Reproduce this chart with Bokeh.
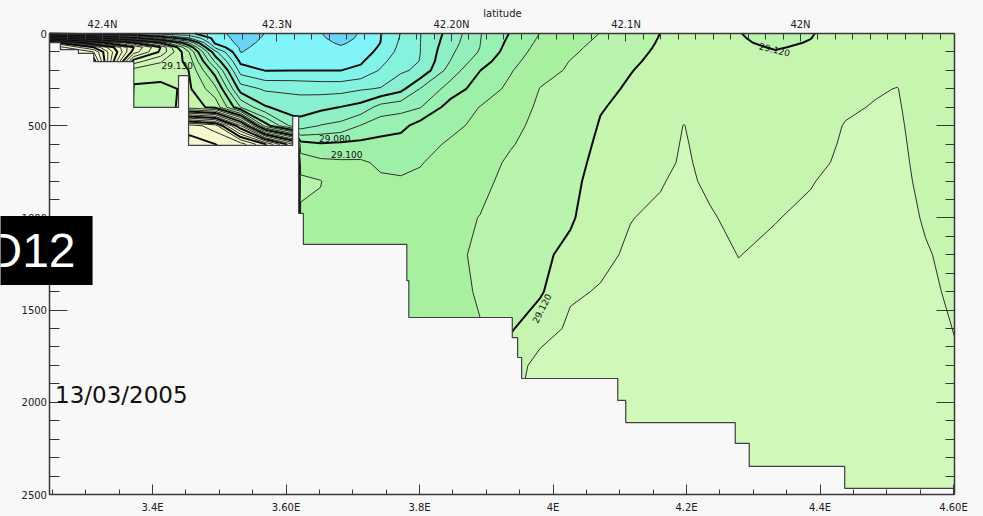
import numpy as np
from bokeh.plotting import figure
from bokeh.models import Range1d, LinearAxis, FixedTicker, CustomJSTickFormatter, Label
from bokeh.core.properties import value
from bokeh.embed import file_html
from bokeh.resources import INLINE

# ---------------- data ----------------
# station longitudes (deg E)
station_lon = [3.246, 3.312, 3.372, 3.412, 3.454, 3.494, 3.532, 3.569, 3.610, 3.622,
               3.652, 3.682, 3.712, 3.742, 3.772, 3.801, 3.846, 3.891, 3.936, 3.981,
               4.026, 4.071, 4.116, 4.161, 4.196, 4.236, 4.278, 4.333, 4.386, 4.438,
               4.483, 4.516, 4.558, 4.602]
# depth levels (m)
depth_levels = [0, 25, 50, 75, 100, 150, 200, 300, 400, 500, 600, 700, 800, 1000,
                1200, 1400, 1600, 1800, 2000, 2250, 2500]
# potential density anomaly per station: (sigma - 29.000) * 1000, one row per station
sigma_milli = [
    [60, 150, 250, 270, 280, 290, 290, 290, 290, 290, 290, 290, 290, 290, 290, 290, 290, 290, 290, 290, 290],
    [50, 120, 190, 240, 260, 275, 280, 285, 285, 285, 285, 285, 285, 285, 285, 285, 285, 285, 285, 285, 285],
    [42, 90, 150, 180, 175, 145, 126, 118, 115, 115, 115, 115, 115, 115, 115, 115, 115, 115, 115, 115, 115],
    [35, 70, 120, 150, 148, 131, 125, 117, 114, 114, 114, 114, 114, 114, 114, 114, 114, 114, 114, 114, 114],
    [32, 52, 80, 100, 111, 117, 120, 122, 125, 235, 245, 250, 250, 250, 250, 250, 250, 250, 250, 250, 250],
    [24, 26, 28, 38, 53, 68, 84, 103, 117, 225, 240, 245, 245, 245, 245, 245, 245, 245, 245, 245, 245],
    [15, 16, 17.2, 18.5, 19.7, 27.5, 35.5, 55, 80, 170, 235, 240, 240, 240, 240, 240, 240, 240, 240, 240, 240],
    [20.2, 21, 21.8, 22.6, 23.5, 26.5, 29.7, 48.5, 61, 95, 210, 220, 220, 220, 220, 220, 220, 220, 220, 220, 220],
    [22.5, 23, 23.6, 24.3, 25.2, 27.5, 29.9, 48, 55, 66, 170, 190, 190, 190, 190, 190, 190, 190, 190, 190, 190],
    [22, 22.5, 23.2, 24, 25, 27.5, 29.9, 47.5, 55, 65, 94, 106, 112, 108.5, 108, 108.2, 108.5, 109, 109.5, 109.8, 109.9],
    [20.4, 21.2, 22.2, 23.3, 24.5, 27, 29.9, 46.5, 57.5, 70.5, 91, 102.5, 110.3, 108.5, 107.5, 108, 108.5, 109, 109.5, 109.8, 109.9],
    [15, 16.8, 18.8, 20.8, 22.5, 25.5, 29.9, 46.5, 60.3, 73, 92, 101.5, 104.5, 106.5, 107.5, 108.2, 108.8, 109.2, 109.6, 109.8, 109.9],
    [21, 21.5, 22.3, 23.5, 25, 28.5, 32.5, 49, 63.5, 80.5, 92.5, 101.5, 104, 106, 107, 107.8, 108.5, 109, 109.3, 109.6, 109.8],
    [29.7, 29.9, 30.2, 31.5, 33, 37.5, 41, 50.7, 74, 86, 92.8, 98.2, 101.5, 104, 105.5, 106.5, 107.5, 108.5, 109, 109.5, 109.8],
    [40.2, 41, 41.8, 42.6, 43.5, 45.5, 48.5, 57, 76.5, 87, 94.5, 98, 100.8, 103, 104.5, 105.5, 106.5, 107.5, 108.5, 109.2, 109.6],
    [49.7, 49.75, 49.8, 49.85, 49.9, 50.3, 52, 70.4, 79.5, 94, 96, 99.5, 101.5, 103.5, 105.5, 107, 108, 109, 109.5, 109.8, 109.9],
    [63.5, 64.5, 65.5, 66.8, 68, 70.1, 74.5, 84.2, 94.5, 97.2, 101.5, 103.5, 105, 107, 108, 108.5, 108.8, 109.2, 109.5, 109.7, 109.9],
    [79.5, 79.7, 79.9, 80.2, 81, 85.5, 89.9, 95, 100.3, 102.8, 104.5, 106, 107.3, 110.3, 111.5, 110.5, 109.8, 109.8, 109.9, 109.9, 109.9],
    [90.5, 91.5, 92.6, 93.7, 94.8, 97, 99.2, 102, 104.5, 107, 109.2, 111.5, 113, 115, 116.5, 117.8, 119, 125, 128, 129.5, 129.8],
    [100.3, 101.2, 102.1, 103, 103.8, 105.5, 107, 110.3, 111.8, 113, 114, 114.8, 115.5, 116.8, 118, 118.8, 126, 133.5, 134, 134.5, 135],
    [105.5, 106.3, 107.1, 107.9, 108.6, 110.2, 111, 112.5, 113.6, 114.6, 115.5, 116.5, 117.5, 118.8, 122.5, 129, 131.5, 132.5, 133, 133.5, 134],
    [110.2, 111, 111.8, 112.6, 113.4, 114.8, 116, 118, 119.5, 120.6, 121.7, 122.8, 123.9, 126, 128.4, 130.5, 131.5, 132.2, 132.8, 133.5, 134],
    [115.5, 116, 116.6, 117.2, 117.8, 118.8, 119.7, 121, 122, 123, 124, 125, 126.3, 129.8, 131, 131.8, 132.5, 133, 133.5, 134, 134.5],
    [120.1, 120.4, 120.7, 121, 121.3, 121.9, 122.5, 123.6, 124.6, 125.5, 126.5, 127.6, 129.5, 131.2, 131.9, 132.5, 133, 133.5, 133.9, 134.4, 134.8],
    [121, 121.4, 121.8, 122.2, 122.6, 123.4, 124.2, 125.9, 127.6, 130.2, 130.8, 131.2, 131.6, 132.2, 132.7, 133.1, 133.5, 133.9, 134.2, 134.6, 135],
    [121.5, 121.7, 121.9, 122.1, 122.3, 122.8, 123.3, 124.2, 125, 125.8, 126.7, 127.6, 128.5, 130.7, 131.6, 132.2, 132.8, 133.3, 133.8, 134.3, 134.8],
    [120.3, 120.6, 120.9, 121.2, 121.5, 122, 122.5, 123.3, 124, 124.6, 125.2, 125.8, 126.4, 128, 129.9, 131, 131.8, 132.5, 133.1, 133.8, 134.5],
    [117, 117.8, 118.6, 119.6, 120.3, 121.5, 122.3, 123.5, 124.3, 125, 125.8, 126.6, 127.4, 129.8, 131, 131.8, 132.5, 133, 133.5, 134.1, 134.6],
    [119.6, 119.9, 120.4, 120.8, 121.2, 122, 122.6, 123.8, 125, 126.1, 127.2, 128.3, 129.7, 131, 131.8, 132.4, 133, 133.5, 134, 134.5, 135],
    [123, 123.4, 123.7, 124.1, 124.5, 125.2, 126, 127.5, 128.9, 130.4, 130.9, 131.3, 131.7, 132.3, 132.8, 133.2, 133.6, 134, 134.3, 134.7, 135.1],
    [123, 123.5, 124, 124.5, 125, 126, 127, 129.3, 130.5, 131, 131.4, 131.8, 132.1, 132.6, 133, 133.4, 133.8, 134.1, 134.4, 134.8, 135.2],
    [123, 123.6, 124.2, 124.8, 125.4, 126.6, 127.8, 130.2, 130.8, 131.3, 131.7, 132, 132.3, 132.8, 133.2, 133.6, 134, 134.3, 134.6, 135, 135.4],
    [123, 123.2, 123.3, 123.5, 123.6, 123.9, 124.3, 124.9, 125.5, 126.2, 126.8, 127.4, 128, 129.3, 130.6, 131.3, 132, 132.6, 133.2, 134, 134.8],
    [123, 123.1, 123.2, 123.3, 123.4, 123.6, 123.8, 124.3, 124.7, 125.1, 125.5, 126, 126.4, 127.2, 128.1, 128.9, 129.8, 130.6, 131.4, 132.4, 133.4],
]
# sea-floor staircase: longitude edges and bottom depth of each interval
bottom_edges = [3.246, 3.262, 3.289, 3.312, 3.372, 3.439, 3.454, 3.610, 3.619, 3.626, 3.781,
                3.784, 3.939, 3.947, 3.953, 4.097, 4.109, 4.273, 4.294, 4.437, 4.602]
bottom_depth = [49, 87, 108, 152, 401, 228, 607, 450, 976, 1144, 1340, 1540, 1649, 1757,
                1871, 1990, 2110, 2223, 2348, 2467]
# contour labels
label_text = ["29.080", "29.100", "29.120", "29.120", "29.130"]
label_lon = [3.673, 3.691, 3.983, 4.332, 3.437]
label_depth = [569, 656, 1491, 87, 174]
label_angle_deg = [0, 0, 63, -14, 0]
# axes
lon_ticks = [3.4, 3.6, 3.8, 4.0, 4.2, 4.4, 4.6]
lon_tick_labels = ["3.4E", "3.60E", "3.8E", "4E", "4.2E", "4.4E", "4.60E"]
lat_ticks = [42.4, 42.3, 42.2, 42.1, 42.0]
lat_tick_labels = ["42.4N", "42.3N", "42.20N", "42.1N", "42N"]
depth_ticks = [0, 500, 1000, 1500, 2000, 2500]

# ---------------- layout / styling ----------------
BG = "#f8f8f8"
LON_MIN, LON_MAX = 3.2464, 4.6015      # section limits
LAT_W, LAT_E = 42.4301, 41.9115         # latitude at the same limits
DEPTH_MAX = 2500

contour_levels = list(np.round(np.linspace(29.0, 29.3, 31), 2))
band_colors = ["#5cc8f0", "#68d4f8", "#80f4f8", "#80f4e8", "#84f2dc", "#88f0d0", "#8ef0c4",
               "#94f0ba", "#98f0b2", "#9ef0a8", "#a8f0a0", "#b8f4ac", "#c6f5b0", "#d0f8b8",
               "#d6f8b8", "#dcf8bc", "#e2f8bc", "#e6f8c0", "#eaf8c0", "#eef8c2", "#f0f8c4",
               "#f2f8c6", "#f2f8c8", "#f4f8cc", "#f4f8d0", "#f6f8d4", "#f6f8d8", "#f8f8dc",
               "#f8f8e0", "#f8f8e4"]
is_major = [int(round((lv - 29.0) * 100)) % 3 == 0 for lv in contour_levels]
line_widths = [2.0 if m else 1.0 for m in is_major]
line_colors = ["#0a0a0a" if m else "#2e2e2e" for m in is_major]

# the frame fills the whole canvas; the section box sits inside it
p = figure(frame_width=983, frame_height=516,
           x_range=Range1d(3.17228, 4.64494), y_range=Range1d(2619.3, -178.96),
           output_backend="svg", toolbar_location=None,
           min_border=0, min_border_left=0, min_border_right=0, min_border_top=0, min_border_bottom=0,
           background_fill_color=BG, border_fill_color=BG, outline_line_color=None)
p.grid.visible = False

Z = 29.0 + np.array(sigma_milli, dtype=float).T / 1000.0
p.contour(x=station_lon, y=depth_levels, z=Z, levels=contour_levels,
          fill_color=band_colors, line_color=line_colors, line_width=line_widths)

# sea floor mask
sx, sy = [], []
for i, d in enumerate(bottom_depth):
    sx += [bottom_edges[i], bottom_edges[i + 1]]
    sy += [d, d]
p.patch(sx + [bottom_edges[-1], bottom_edges[0]], sy + [DEPTH_MAX, DEPTH_MAX],
        fill_color=BG, line_color=None)
p.line(sx, sy, line_color="#404040", line_width=1.2)

# contour labels
p.text(x=label_lon, y=label_depth, text=label_text,
       angle=[float(np.deg2rad(a)) for a in label_angle_deg],
       text_font=value("DejaVu Sans"), text_font_size="9px",
       text_align="center", text_baseline="middle", text_color="#111111")

fmt_code = """
const i = tv.findIndex(t => Math.abs(t - tick) < 1e-6);
return i < 0 ? "" : tl[i];
"""

def style_axis(ax, major_in, minor_in, standoff):
    ax.major_tick_in = major_in
    ax.major_tick_out = 0
    ax.minor_tick_in = minor_in
    ax.minor_tick_out = 0
    ax.axis_line_color = "#383838"
    ax.axis_line_width = 1.5
    ax.major_tick_line_color = "#383838"
    ax.minor_tick_line_color = "#383838"
    ax.major_label_text_font = "DejaVu Sans"
    ax.major_label_text_font_size = "10px"
    ax.major_label_text_color = "#202020"
    ax.major_label_standoff = standoff

xa = p.xaxis[0]
xa.fixed_location = DEPTH_MAX
xa.bounds = (LON_MIN, LON_MAX)
xa.ticker = FixedTicker(ticks=lon_ticks, minor_ticks=[float(v) for v in np.round(np.arange(3.25, 4.601, 0.05), 2)])
xa.formatter = CustomJSTickFormatter(args=dict(tv=lon_ticks, tl=lon_tick_labels), code=fmt_code)
style_axis(xa, 10, 5, 7)

ya = p.yaxis[0]
ya.fixed_location = LON_MIN
ya.bounds = (0, DEPTH_MAX)
ya.ticker = FixedTicker(ticks=depth_ticks, minor_ticks=list(range(0, 2501, 100)))
style_axis(ya, 18, 10, 3)

ra = LinearAxis(fixed_location=LON_MAX, bounds=(0, DEPTH_MAX),
                ticker=FixedTicker(ticks=depth_ticks, minor_ticks=list(range(0, 2501, 100))))
style_axis(ra, 18, 9, 3)
ra.major_label_text_alpha = 0
ra.major_label_text_color = None
p.add_layout(ra, "right")

p.extra_x_ranges = {"lat": Range1d(42.45845, 41.89513)}
ta = LinearAxis(x_range_name="lat", fixed_location=0, bounds=(LAT_E, LAT_W),
                ticker=FixedTicker(ticks=lat_ticks, minor_ticks=[float(v) for v in np.round(np.arange(41.92, 42.421, 0.01), 2)]),
                formatter=CustomJSTickFormatter(args=dict(tv=lat_ticks, tl=lat_tick_labels), code=fmt_code))
style_axis(ta, 8, 6, 4)
p.add_layout(ta, "above")

p.add_layout(Label(x=3.9243, y=-111, text="latitude",
                   text_font="DejaVu Sans", text_font_size="10px", text_color="#202020",
                   text_align="center", text_baseline="middle"))
p.add_layout(Label(x=3.254, y=1963, text="13/03/2005", text_font="DejaVu Sans",
                   text_font_size="23px", text_color="#101010", text_baseline="middle"))
p.add_layout(Label(x=-21, y=266, x_units="screen", y_units="screen", text="D12",
                   text_font="Liberation Sans", text_font_size="48px", text_color="white",
                   background_fill_color="black", text_baseline="middle",
                   padding=(8, 17, 8, 8)))

open("out.html", "w").write(file_html(p, INLINE))
